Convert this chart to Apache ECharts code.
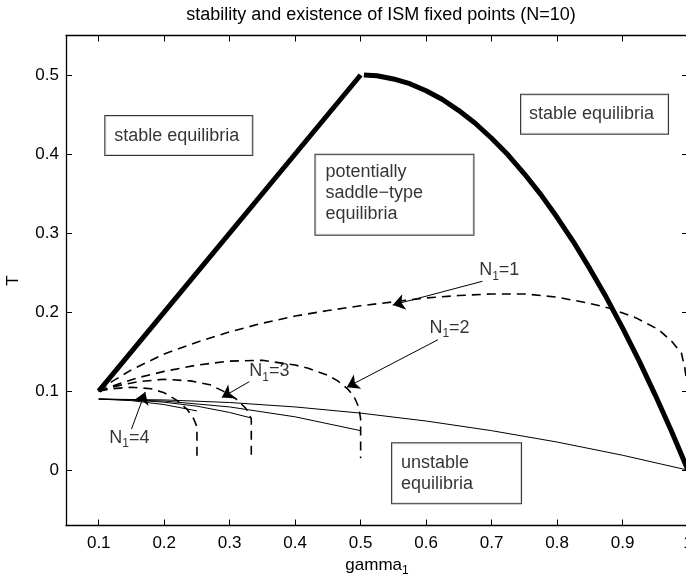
<!DOCTYPE html>
<html><head><meta charset="utf-8">
<script src="https://cdn.jsdelivr.net/npm/echarts@6/dist/echarts.min.js"></script>
<style>html,body{margin:0;padding:0;background:#fff}#c{width:686px;height:574px}</style>
</head><body><div id="c"></div>
<script>
// ---- tick values ----
const xTicks = [0.1, 0.2, 0.3, 0.4, 0.5, 0.6, 0.7, 0.8, 0.9, 1.0];
const yTicks = [0, 0.1, 0.2, 0.3, 0.4, 0.5];

// ---- stability boundary (thick) ----
const boundaryLine = [[0.1, 0.1], [0.5, 0.5]];
const boundaryArc = [[0.505, 0.5], [0.525, 0.499], [0.55, 0.495], [0.575, 0.489], [0.6, 0.48], [0.625, 0.469],
  [0.65, 0.455], [0.675, 0.439], [0.7, 0.42], [0.725, 0.399], [0.75, 0.375], [0.775, 0.349], [0.8, 0.32],
  [0.825, 0.289], [0.85, 0.255], [0.875, 0.219], [0.9, 0.18], [0.925, 0.139], [0.95, 0.095], [0.975, 0.049], [1.0, 0.0]];

// ---- existence curves (dashed) ----
const dashN1 = [[0.1, 0.1], [0.12, 0.112], [0.15, 0.127], [0.2, 0.147], [0.25, 0.162], [0.3, 0.175], [0.35, 0.186],
  [0.4, 0.195], [0.45, 0.202], [0.5, 0.208], [0.55, 0.213], [0.6, 0.218], [0.65, 0.221], [0.7, 0.223], [0.75, 0.223],
  [0.8, 0.219], [0.85, 0.211], [0.88, 0.205], [0.92, 0.193], [0.955, 0.178], [0.975, 0.163], [0.99, 0.148],
  [0.995, 0.13], [1.0, 0.1], [1.0, 0.015]];
const dashN2 = [[0.1, 0.1], [0.13, 0.109], [0.16, 0.117], [0.2, 0.125], [0.25, 0.133], [0.3, 0.138], [0.35, 0.139],
  [0.4, 0.133], [0.42, 0.129], [0.45, 0.12], [0.465, 0.113], [0.48, 0.103], [0.49, 0.093], [0.497, 0.08],
  [0.5, 0.065], [0.5, 0.015]];
const dashN3 = [[0.1, 0.1], [0.13, 0.107], [0.16, 0.112], [0.2, 0.115], [0.24, 0.113], [0.27, 0.108], [0.29, 0.1],
  [0.31, 0.09], [0.325, 0.078], [0.333, 0.065], [0.333, 0.015]];
const dashN4 = [[0.1, 0.1], [0.12, 0.103], [0.15, 0.105], [0.18, 0.103], [0.2, 0.098], [0.22, 0.088], [0.235, 0.077],
  [0.245, 0.065], [0.25, 0.055], [0.25, 0.015]];

// ---- thin solid curves ----
const solidN1 = [[0.1, 0.09], [0.2, 0.0889], [0.3, 0.0856], [0.4, 0.08], [0.5, 0.0722], [0.6, 0.0622], [0.7, 0.05],
  [0.8, 0.0356], [0.9, 0.0189], [1.0, 0.0]];
const solidN2 = [[0.1, 0.09], [0.2, 0.0875], [0.3, 0.08], [0.4, 0.0675], [0.5, 0.05]];
const solidN3 = [[0.1, 0.09], [0.15, 0.089], [0.2, 0.086], [0.25, 0.081], [0.3, 0.073], [0.333, 0.066]];
const solidN4 = [[0.1, 0.09], [0.15, 0.088], [0.2, 0.083], [0.25, 0.075]];

// ---- arrows: [tail, tip] ----
const arrowN1 = [[0.686, 0.239], [0.549, 0.209]];
const arrowN2 = [[0.618, 0.165], [0.479, 0.105]];
const arrowN3 = [[0.33, 0.112], [0.288, 0.092]];
const arrowN4 = [[0.150, 0.052], [0.171, 0.099]];

// ---- arrow labels: [x, y, text] (left-middle anchor) ----
const arrowLabels = [[0.681, 0.253, 'N1=1'], [0.605, 0.18, 'N1=2'], [0.330, 0.125, 'N1=3'], [0.116, 0.041, 'N1=4']];

// ---- boxed texts: [x, y (top-left), text] ----
const boxes = [
  [0.110, 0.448, 'stable equilibria'],
  [0.745, 0.475, 'stable equilibria'],
  [0.431, 0.399, 'potentially\nsaddle\u2212type\nequilibria'],
  [0.548, 0.034, 'unstable\nequilibria']
];

const FONT = 'Liberation Sans, Arial, Helvetica, sans-serif';
const FS = 17;
const FSB = 18;

function line(data, width, dashed) {
  return { type: 'line', data: data, showSymbol: false, symbol: 'none', animation: false, silent: true,
    lineStyle: { color: '#000', width: width, type: dashed ? [9, 6] : 'solid', cap: 'butt' }, z: 3 };
}
function arrow(coords) {
  return { type: 'lines', coordinateSystem: 'cartesian2d', animation: false, silent: true,
    symbol: ['none', 'arrow'], symbolSize: [9, 12],
    lineStyle: { color: '#000', width: 1, opacity: 1 }, itemStyle: { color: '#000' },
    data: [{ coords: coords }], z: 4 };
}
function fmtSub(t) {
  const m = t.match(/^N1(=\d)$/);
  return '{n|N}{s|1}{n|' + m[1] + '}';
}

const boxPads = [[9, 10, 9, 9], [9, 10, 9, 8], [7, 10, 10, 10], [9, 10, 9, 9]];
const boxWidths = [128, 129, 138, 110];

const option = {
  animation: false,
  backgroundColor: '#fff',
  title: { text: 'stability and existence of ISM fixed points (N=10)', left: 376, textAlign: 'center', top: 1,
    textStyle: { fontFamily: FONT, fontSize: 18, fontWeight: 'normal', color: '#000' } },
  grid: { left: 66, top: 35.5, width: 622, height: 490, outerBoundsMode: 'none', containLabel: false },
  xAxis: [
    { type: 'value', min: 0.05, max: 1.0, position: 'bottom',
      axisLine: { show: true, onZero: false, lineStyle: { color: '#000', width: 1.3 } },
      axisTick: { show: true, inside: true, length: 6, customValues: xTicks, lineStyle: { color: '#000' } },
      axisLabel: { show: true, customValues: xTicks, margin: 9, color: '#000', fontFamily: FONT, fontSize: FS },
      splitLine: { show: false },
      name: '{a|gamma}{b|1}', nameLocation: 'middle', nameGap: 25,
      nameTextStyle: { rich: { a: { fontFamily: FONT, fontSize: FS, color: '#000' },
        b: { fontFamily: FONT, fontSize: 12, color: '#000', padding: [12, 0, 0, 0] } } } },
    { type: 'value', min: 0.05, max: 1.0, position: 'top',
      axisLine: { show: true, onZero: false, lineStyle: { color: '#000', width: 1.3 } },
      axisTick: { show: true, inside: true, length: 6, customValues: xTicks, lineStyle: { color: '#000' } },
      axisLabel: { show: false }, splitLine: { show: false } }
  ],
  yAxis: [
    { type: 'value', min: -0.07, max: 0.55, position: 'left',
      axisLine: { show: true, onZero: false, lineStyle: { color: '#000', width: 1.3 } },
      axisTick: { show: true, inside: true, length: 6, customValues: yTicks, lineStyle: { color: '#000' } },
      axisLabel: { show: true, customValues: yTicks, margin: 7, color: '#000', fontFamily: FONT, fontSize: FS },
      splitLine: { show: false },
      name: 'T', nameLocation: 'middle', nameGap: 44,
      nameTextStyle: { fontFamily: FONT, fontSize: FS, color: '#000' } },
    { type: 'value', min: -0.07, max: 0.55, position: 'right',
      axisLine: { show: true, onZero: false, lineStyle: { color: '#000', width: 1.3 } },
      axisTick: { show: true, inside: true, length: 6, customValues: yTicks, lineStyle: { color: '#000' } },
      axisLabel: { show: false }, splitLine: { show: false } }
  ],
  series: [
    line(solidN1, 1), line(solidN2, 1), line(solidN3, 1), line(solidN4, 1),
    line(dashN1, 1.6, true), line(dashN2, 1.6, true), line(dashN3, 1.6, true), line(dashN4, 1.6, true),
    line(boundaryLine, 5), line(boundaryArc, 5),
    arrow(arrowN1), arrow(arrowN2), arrow(arrowN3), arrow(arrowN4),
    { type: 'scatter', symbolSize: 0, animation: false, silent: true, z: 6,
      data: arrowLabels.map(a => ({ value: [a[0], a[1]], label: { formatter: fmtSub(a[2]) } })),
      label: { show: true, position: 'right', distance: 0, color: '#000',
        rich: { n: { fontFamily: FONT, fontSize: FSB, color: '#000' },
                s: { fontFamily: FONT, fontSize: 12, color: '#000', padding: [12, 0, 0, 0] } } } },
    { type: 'scatter', symbolSize: 0, animation: false, silent: true, z: 7,
      data: boxes.map((b, i) => ({ value: [b[0], b[1]], label: { formatter: b[2], padding: boxPads[i], width: boxWidths[i] } })),
      label: { show: true, position: [0, 0], align: 'left', verticalAlign: 'top', color: '#000',
        fontFamily: FONT, fontSize: FSB, lineHeight: 21,
        backgroundColor: '#fff', borderColor: '#000', borderWidth: 1 } }
  ]
};
const chart = echarts.init(document.getElementById('c'), null, { renderer: 'canvas' });
chart.setOption(option);
</script></body></html>
